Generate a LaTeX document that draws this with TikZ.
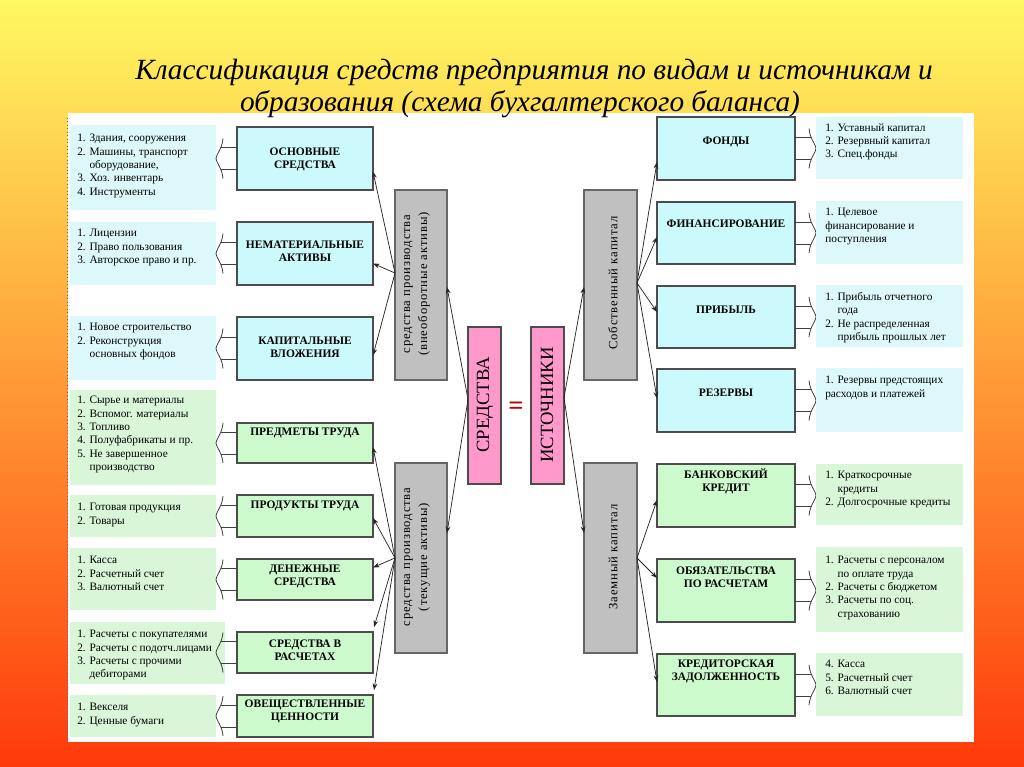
\documentclass[tikz,border=0pt]{standalone}
\usepackage{fontspec}
\setmainfont{Liberation Serif}
\usetikzlibrary{arrows.meta,calc}
\definecolor{bgtop}{HTML}{FFF962}
\definecolor{bgmid}{HTML}{FFC83C}
\definecolor{bgbot}{HTML}{FF3A0A}
\definecolor{catcyan}{HTML}{CCF9FB}
\definecolor{listcyan}{HTML}{DDF8FA}
\definecolor{catgreen}{HTML}{CCFACC}
\definecolor{listgreen}{HTML}{D9F6D9}
\definecolor{greyfill}{HTML}{C0C0C0}
\definecolor{pinkfill}{HTML}{FF99CC}
\definecolor{eqred}{HTML}{C00000}
\newcommand\blkL[1]{%
 \draw[barr] ($(#1.west)+(0,-11)$) -- ($(#1.west)+(-16,-11)$);
 \draw[barr] ($(#1.west)+(0,11)$) -- ($(#1.west)+(-16,11)$);
 \draw[barr] ($(#1.west)+(-14,-20)$) .. controls ($(#1.west)+(-15,-9)$) and ($(#1.west)+(-21,-4)$) .. ($(#1.west)+(-21,0)$) .. controls ($(#1.west)+(-21,4)$) and ($(#1.west)+(-15,9)$) .. ($(#1.west)+(-14,20)$);
}
\newcommand\blkR[1]{%
 \draw[barr] ($(#1.east)+(0,-11)$) -- ($(#1.east)+(16,-11)$);
 \draw[barr] ($(#1.east)+(0,11)$) -- ($(#1.east)+(16,11)$);
 \draw[barr] ($(#1.east)+(14,-20)$) .. controls ($(#1.east)+(15,-9)$) and ($(#1.east)+(21,-4)$) .. ($(#1.east)+(21,0)$) .. controls ($(#1.east)+(21,4)$) and ($(#1.east)+(15,9)$) .. ($(#1.east)+(14,20)$);
}
\newcommand\hi{\hphantom{2. }}
\begin{document}
\begin{tikzpicture}[x=0.75pt,y=-0.75pt,
  sz/.style 2 args={minimum width=#1*0.75pt, minimum height=#2*0.75pt},
  basebox/.style={inner sep=0pt, outer sep=0pt},
  catc/.style={basebox, draw=black!70, line width=0.9pt, fill=catcyan},
  catg/.style={basebox, draw=black!70, line width=0.9pt, fill=catgreen},
  lstc/.style={basebox, fill=listcyan},
  lstg/.style={basebox, fill=listgreen},
  cattext/.style={inner sep=0pt, align=center, font=\bfseries\fontsize{8.6}{9.8}\selectfont},
  lsttext/.style={anchor=north west, align=left, inner sep=0pt, font=\fontsize{8.5}{10}\selectfont},
  greybox/.style={basebox, draw=black!60, line width=0.9pt, fill=greyfill},
  pinkbox/.style={basebox, draw=black!70, line width=0.9pt, fill=pinkfill},
  vtext/.style={rotate=90, inner sep=0pt, align=center, font=\addfontfeature{LetterSpace=7}\fontsize{9.5}{12.7}\selectfont},
  arr/.style={-{Stealth[length=5pt,width=3.6pt]}, line width=0.55pt, black!85},
  barr/.style={line width=0.6pt, black!75},
]
\shade[top color=bgtop, middle color=bgmid, bottom color=bgbot] (0,0) rectangle (1024,767);
\useasboundingbox (0,0) rectangle (1024,767);
\fill[white] (68,113) rectangle (974,742);
\draw[dotted, black!60, line width=0.6pt] (67,118) -- (67,742);

% title
\node[font=\itshape\fontsize{22}{26}\selectfont] (t1) at (534,72) {Классификация средств предприятия по видам и источникам и};
\node[font=\itshape\fontsize{22}{26}\selectfont] (t2) at (520,104) {образования (схема бухгалтерского баланса)};

% left lists
\node[lstc, sz={146}{85}] (l1) at (143,167.5) {};
\node[lstc, sz={146}{63}] (l2) at (143,253.5) {};
\node[lstc, sz={146}{64}] (l3) at (143,348) {};
\node[lstg, sz={146}{95}] (l4) at (143,437.5) {};
\node[lstg, sz={146}{42}] (l5) at (143,516) {};
\node[lstg, sz={146}{62}] (l6) at (143,579) {};
\node[lstg, sz={155}{62}] (l7) at (147.5,653) {};
\node[lstg, sz={146}{42}] (l8) at (143,716) {};
\node[lsttext] (l1t) at (77,134) {1. Здания, сооружения\\2. Машины, транспорт\\\hi оборудование,\\3. Хоз. инвентарь\\4. Инструменты};
\node[lsttext] (l2t) at (77,229) {1. Лицензии\\2. Право пользования\\3. Авторское право и пр.};
\node[lsttext] (l3t) at (77,323) {1. Новое строительство\\2. Реконструкция\\\hi основных фондов};
\node[lsttext] (l4t) at (77,396) {1. Сырье и материалы\\2. Вспомог. материалы\\3. Топливо\\4. Полуфабрикаты и пр.\\5. Не завершенное\\\hi производство};
\node[lsttext] (l5t) at (77,503) {1. Готовая продукция\\2. Товары};
\node[lsttext] (l6t) at (77,556) {1. Касса\\2. Расчетный счет\\3. Валютный счет};
\node[lsttext] (l7t) at (77,630) {1. Расчеты с покупателями\\2. Расчеты с подотч.лицами\\3. Расчеты с прочими\\\hi дебиторами};
\node[lsttext] (l8t) at (77,703) {1. Векселя\\2. Ценные бумаги};

% left categories
\node[catc, sz={136}{63}] (os) at (305,158.5) {};
\node[catc, sz={136}{63}] (nm) at (305,253.5) {};
\node[catc, sz={136}{63}] (kv) at (305,348.5) {};
\node[catg, sz={136}{40}] (pt) at (305,443) {};
\node[catg, sz={136}{42}] (pr) at (305,516) {};
\node[catg, sz={136}{41}] (ds) at (305,579.5) {};
\node[catg, sz={136}{41}] (sr) at (305,652.5) {};
\node[catg, sz={136}{42}] (ov) at (305,716) {};
\node[cattext] (ost) at (305,159) {ОСНОВНЫЕ\\СРЕДСТВА};
\node[cattext] (nmt) at (305,251) {НЕМАТЕРИАЛЬНЫЕ\\АКТИВЫ};
\node[cattext] (kvt) at (305,347) {КАПИТАЛЬНЫЕ\\ВЛОЖЕНИЯ};
\node[cattext] (ptt) at (305,433) {ПРЕДМЕТЫ ТРУДА};
\node[cattext] (prt) at (305,506) {ПРОДУКТЫ ТРУДА};
\node[cattext] (dst) at (305,576) {ДЕНЕЖНЫЕ\\СРЕДСТВА};
\node[cattext] (srt) at (305,650) {СРЕДСТВА В\\РАСЧЕТАХ};
\node[cattext] (ovt) at (305,711) {ОВЕЩЕСТВЛЕННЫЕ\\ЦЕННОСТИ};
\blkL{os}\blkL{nm}\blkL{kv}\blkL{pt}\blkL{pr}\blkL{ds}\blkL{sr}\blkL{ov}

% right categories
\node[catc, sz={138}{63}] (fo) at (726,148.5) {};
\node[catc, sz={138}{62}] (fi) at (726,233) {};
\node[catc, sz={138}{62}] (pb) at (726,317) {};
\node[catc, sz={138}{63}] (rz) at (726,400.5) {};
\node[catg, sz={138}{63}] (bk) at (726,495.5) {};
\node[catg, sz={138}{63}] (ob) at (726,590.5) {};
\node[catg, sz={138}{62}] (kz) at (726,685) {};
\node[cattext] (fot) at (726,142) {ФОНДЫ};
\node[cattext] (fit) at (726,224) {ФИНАНСИРОВАНИЕ};
\node[cattext] (pbt) at (726,310) {ПРИБЫЛЬ};
\node[cattext] (rzt) at (726,393) {РЕЗЕРВЫ};
\node[cattext] (bkt) at (726,481.5) {БАНКОВСКИЙ\\КРЕДИТ};
\node[cattext] (obt) at (726,577) {ОБЯЗАТЕЛЬСТВА\\ПО РАСЧЕТАМ};
\node[cattext] (kzt) at (726,671) {КРЕДИТОРСКАЯ\\ЗАДОЛЖЕННОСТЬ};
\blkR{fo}\blkR{fi}\blkR{pb}\blkR{rz}\blkR{bk}\blkR{ob}\blkR{kz}

% right lists
\node[lstc, sz={147}{62}] (r1) at (889.5,148) {};
\node[lstc, sz={147}{63}] (r2) at (889.5,232.5) {};
\node[lstc, sz={147}{62}] (r3) at (889.5,316) {};
\node[lstc, sz={147}{64}] (r4) at (889.5,400) {};
\node[lstg, sz={147}{61}] (r5) at (889.5,494.5) {};
\node[lstg, sz={147}{85}] (r6) at (889.5,589.5) {};
\node[lstg, sz={147}{63}] (r7) at (889.5,684.5) {};
\node[lsttext] (r1t) at (825,123) {1. Уставный капитал\\2. Резервный капитал\\3. Спец.фонды};
\node[lsttext] (r2t) at (825,208) {1. Целевое\\финансирование и\\поступления};
\node[lsttext] (r3t) at (825,292) {1. Прибыль отчетного\\\hi года\\2. Не распределенная\\\hi прибыль прошлых лет};
\node[lsttext] (r4t) at (825,376) {1. Резервы предстоящих\\расходов и платежей};
\node[lsttext] (r5t) at (825,471) {1. Краткосрочные\\\hi кредиты\\2. Долгосрочные кредиты};
\node[lsttext] (r6t) at (825,556) {1. Расчеты с персоналом\\\hi по оплате труда\\2. Расчеты с бюджетом\\3. Расчеты по соц.\\\hi страхованию};
\node[lsttext] (r7t) at (825,660) {4. Касса\\5. Расчетный счет\\6. Валютный счет};

% grey boxes
\node[greybox, sz={52}{190}] (gl1) at (421,285) {};
\node[greybox, sz={52}{190}] (gl2) at (421,558) {};
\node[greybox, sz={53}{190}] (gr1) at (610.5,285) {};
\node[greybox, sz={53}{190}] (gr2) at (610.5,558) {};
\node[vtext] (gl1t) at (417,284) {средства производства\\(внеоборотные активы)};
\node[vtext] (gl2t) at (417,557) {средства производства\\(текущие активы)};
\node[vtext] (gr1t) at (613,283) {Собственный капитал};
\node[vtext] (gr2t) at (613,557) {Заемный капитал};

% pink boxes
\node[pinkbox, sz={33}{157}] (sred) at (484.5,405.5) {};
\node[pinkbox, sz={33}{157}] (ist) at (547.5,405.5) {};
\node[rotate=90, inner sep=0pt, font=\fontsize{14}{16}\selectfont] (sredt) at (485,405) {СРЕДСТВА};
\node[rotate=90, inner sep=0pt, font=\fontsize{14}{16}\selectfont] (istt) at (547,405) {ИСТОЧНИКИ};
\node[text=eqred, inner sep=0pt, font=\bfseries\fontsize{20}{22}\selectfont] (eq) at (516,408) {=};

% connectors
\draw[arr] ($(sred.west)+(0,-6)$) -- ($(gl1.east)+(0,2)$);
\draw[arr] ($(sred.west)+(0,-6)$) -- ($(gl2.east)+(0,-25)$);
\draw[arr] ($(ist.east)+(0,-8)$) -- ($(gr1.west)+(0,2)$);
\draw[arr] ($(ist.east)+(0,-8)$) -- ($(gr2.west)+(0,-25)$);

\draw[arr] ($(gl1.west)+(0,-12)$) -- ($(os.east)+(0,13)$);
\draw[arr] ($(gl1.west)+(0,-12)$) -- ($(nm.east)+(0,10)$);
\draw[arr] ($(gl1.west)+(0,-12)$) -- ($(kv.east)+(0,7)$);

\draw[arr] (gl2.west) -- ($(pt.east)+(0,4)$);
\draw[arr] (gl2.west) -- ($(pr.east)+(0,2)$);
\draw[arr] (gl2.west) -- ($(ds.east)+(0,-12)$);
\draw[arr] (gl2.west) -- ($(sr.north east)+(1,-5)$);
\draw[arr] (gl2.west) -- ($(ov.north east)+(1,-5)$);

\draw[arr] ($(gr1.east)+(0,-2)$) -- ($(fo.west)+(0,13.5)$);
\draw[arr] ($(gr1.east)+(0,-2)$) -- ($(fi.west)+(0,4)$);
\draw[arr] ($(gr1.east)+(0,-2)$) -- ($(pb.west)+(0,-5)$);
\draw[arr] ($(gr1.east)+(0,-2)$) -- ($(rz.west)+(0,-2)$);

\draw[arr] (gr2.east) -- ($(bk.west)+(0,4.5)$);
\draw[arr] (gr2.east) -- ($(ob.west)+(0,-12.5)$);
\draw[arr] (gr2.east) -- ($(kz.west)+(0,-3)$);
\end{tikzpicture}
\end{document}
